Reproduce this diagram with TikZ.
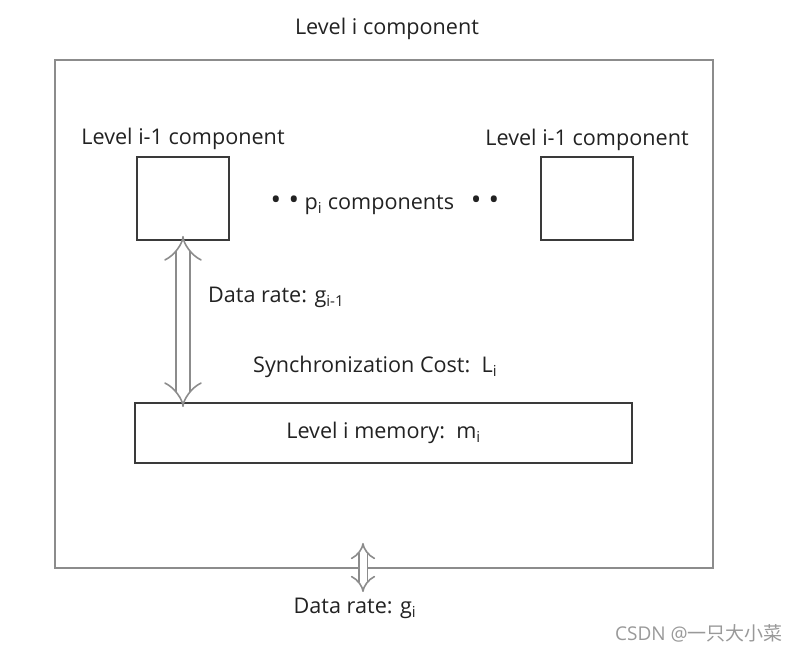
\documentclass[tikz,border=0pt]{standalone}
\usepackage{fontspec}
\setmainfont{Open Sans}
\newfontfamily\cjkfont{Noto Sans CJK SC}
\usetikzlibrary{positioning,arrows.meta}
\definecolor{framegray}{HTML}{8C8C8C}
\definecolor{boxdark}{HTML}{3A3A3A}
\definecolor{txtdark}{HTML}{222222}
\newcommand{\bigdot}{\scalebox{1.3}{\textbullet}}
\tikzset{
	comp/.style={draw=boxdark, line width=2pt, minimum width=92pt, minimum height=83pt, inner sep=0pt},
	lbl/.style={text=txtdark, font=\fontsize{21.6}{26}\selectfont, inner sep=0pt},
	hollow/.style={draw=framegray, line width=1.6pt, double=white, double distance=#1, {Implies}-{Implies}},
	hollow/.default=12pt
}

\begin{document}
\begin{tikzpicture}[x=1pt, y=1pt]
	\useasboundingbox (0,0) rectangle (800,652);
	
	\node[draw=framegray, line width=1.6pt, minimum width=658pt, minimum height=508pt] (outer) at (384,338) {};
	\node[lbl] (title) at (387,623) {Level i component};
	
	\node[comp] (l1) at (183,453.5) {};
	\node[comp] (r1) at (587,453) {};
	\node[lbl, above=6pt of l1] (l1lbl) {Level i-1 component};
	\node[lbl, above=6pt of r1] (r1lbl) {Level i-1 component};
	\node[lbl] (pcomp) at (385,447) {\bigdot\,\,\bigdot\ p\textsubscript{i} components \ \ \bigdot\,\,\bigdot};
	
	\node[comp, minimum width=497pt, minimum height=60pt] (mem) at (383.5,219) {};
	\node[lbl] (memlbl) at (mem.center) {Level i memory:\ \ m\textsubscript{i}};
	
	\node[lbl, anchor=west] (rate) at (208,355) {Data rate: g\textsubscript{i-1}};
	\node[lbl, anchor=west] (sync) at (253,285) {Synchronization Cost:\ \ L\textsubscript{i}};
	
	\draw[hollow, shorten <=-5pt, shorten >=-5pt] (l1.south) -- (l1.south |- mem.north);
	
	\coordinate (gin) at (363,109);
	\coordinate (gout) at (363,60);
	\draw[hollow=7pt] (gin) -- (gout);
	\node[lbl] (grate) at (355,44) {Data rate: g\textsubscript{i}};
	
	\node[text=gray!80, font=\fontsize{19}{22}\selectfont, inner sep=0pt] (mark) at (699,19) {CSDN @{\cjkfont 一只大小菜}};
\end{tikzpicture}
\end{document}
